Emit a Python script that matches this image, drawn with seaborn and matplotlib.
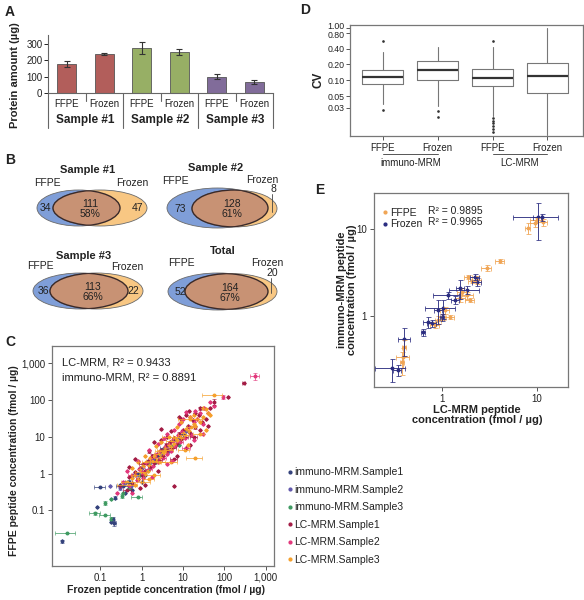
import numpy as np
import pandas as pd
import matplotlib
matplotlib.use("Agg")
import matplotlib.pyplot as plt
import matplotlib.transforms as mtransforms
from matplotlib.patches import Ellipse
from matplotlib.lines import Line2D
import seaborn as sns

sns.set_style("white")
plt.rcParams['font.family'] = ['Liberation Sans', 'DejaVu Sans']
plt.rcParams['text.color'] = '#222222'
plt.rcParams['xtick.color'] = '#222222'
plt.rcParams['ytick.color'] = '#222222'

#################################
# DATA
#################################

# A - protein amount
protein_tissue = ["FFPE", "Frozen"] * 3
protein_sample = ["Sample #1", "Sample #2", "Sample #3"]
protein_amount = [178, 240, 275, 250, 100, 66]
protein_err = [20, 5, 35, 20, 15, 12]
protein_colors = ["#c0504d", "#c0504d", "#9bbb59", "#9bbb59", "#8064a2", "#8064a2"]

# B - venn counts
venn_titles = ["Sample #1", "Sample #2", "Sample #3", "Total"]
venn_ffpe_only = [34, 73, 36, 52]
venn_shared = [111, 128, 113, 164]
venn_shared_pct = ["58%", "61%", "66%", "67%"]
venn_frozen_only = [47, 8, 22, 20]

# C - FFPE vs frozen concentration (x, y, rel. x err, rel. y err)
immuno_s1 = [(0.012, 0.0145, 0, 0.1), (0.085, 0.12, 0, 0), (0.2, 0.06, 0.1, 0.1), (0.22, 0.045, 0.1, 0.15),
             (0.18, 0.05, 0, 0), (0.1, 0.42, 0.3, 0), (0.23, 0.22, 0, 0.1), (0.3, 0.5, 0, 0),
             (0.5, 0.6, 0.2, 0.1), (0.8, 1.0, 0, 0), (1.5, 2.0, 0.1, 0.1), (2.5, 3.0, 0, 0),
             (0.6, 0.35, 0, 0), (1.2, 0.9, 0, 0), (3.5, 5.0, 0.2, 0), (6.0, 8.0, 0, 0),
             (0.4, 0.3, 0, 0), (10, 12, 0, 0), (0.35, 0.45, 0.3, 0), (1.0, 0.6, 0, 0)]
immuno_s2 = [(0.17, 0.45, 0, 0), (0.3, 0.4, 0, 0.1), (0.4, 0.55, 0, 0), (0.7, 0.9, 0.1, 0),
             (1.0, 1.4, 0, 0), (1.3, 1.2, 0, 0), (2.0, 2.5, 0, 0), (3.0, 3.5, 0, 0),
             (0.55, 0.45, 0, 0), (4.5, 4.0, 0, 0), (8.0, 9.0, 0, 0), (12, 14, 0, 0)]
immuno_s3 = [(0.016, 0.025, 0.5, 0), (0.075, 0.083, 0.3, 0.1), (0.13, 0.073, 0.3, 0), (0.18, 0.06, 0, 0.1),
             (0.13, 0.16, 0, 0.1), (0.18, 0.2, 0, 0), (0.34, 0.25, 0, 0.15), (0.8, 0.23, 0.3, 0),
             (0.5, 0.4, 0, 0), (0.9, 0.9, 0, 0), (1.5, 1.3, 0, 0), (2.2, 2.0, 0, 0),
             (3.0, 4.0, 0, 0), (5, 5.5, 0, 0), (0.35, 0.3, 0, 0), (8, 6, 0, 0)]
lc_s1 = [(0.3, 0.45, 0, 0), (0.45, 0.35, 0.2, 0), (0.5, 0.8, 0, 0), (0.6, 0.55, 0, 0.1), (0.7, 1.1, 0, 0),
         (0.8, 0.7, 0.1, 0), (0.9, 1.4, 0, 0), (1.0, 0.9, 0, 0), (1.1, 1.8, 0.2, 0.1), (1.2, 1.2, 0, 0),
         (1.4, 2.2, 0, 0), (1.6, 1.5, 0, 0), (1.8, 3.0, 0, 0.1), (2.0, 1.9, 0, 0), (2.3, 3.5, 0, 0),
         (2.6, 2.4, 0.2, 0), (3.0, 4.5, 0, 0), (3.3, 3.0, 0, 0), (3.8, 5.8, 0, 0.2), (4.2, 4.0, 0, 0),
         (4.8, 7.0, 0, 0), (5.5, 5.0, 0.2, 0), (6.0, 0.47, 0, 0), (6.2, 9.0, 0, 0), (7.0, 6.5, 0, 0),
         (8.0, 12, 0, 0.1), (9.0, 8.5, 0, 0), (10, 15, 0, 0), (11, 10, 0.2, 0), (13, 20, 0, 0),
         (15, 13, 0, 0), (17, 28, 0, 0), (20, 18, 0, 0.1), (24, 38, 0, 0), (28, 25, 0, 0),
         (14, 50, 0, 0), (35, 30, 0, 0), (45, 60, 0, 0), (8, 35, 0, 0), (3, 16, 0, 0),
         (57, 89, 0, 0.2), (120, 120, 0, 0), (290, 290, 0.1, 0), (2.0, 7.0, 0, 0), (0.7, 2.5, 0, 0),
         (25, 15, 0, 0), (12, 5, 0, 0), (0.9, 0.4, 0, 0), (1.5, 4.0, 0, 0.1), (2.5, 1.2, 0, 0),
         (4.0, 10, 0, 0), (6.0, 2.5, 0.2, 0), (9, 30, 0, 0), (15, 6, 0, 0), (25, 60, 0, 0.1),
         (0.5, 1.5, 0, 0), (3.0, 8.0, 0, 0), (7.0, 3.0, 0, 0), (20, 45, 0, 0), (1.2, 0.5, 0, 0),
         (5.0, 14, 0, 0), (12, 40, 0, 0), (40, 20, 0, 0), (18, 10, 0.2, 0)]
lc_s2 = [(0.35, 0.6, 0, 0), (0.5, 0.45, 0, 0), (0.6, 0.9, 0.2, 0), (0.75, 0.65, 0, 0), (0.85, 1.3, 0, 0),
         (1.0, 1.1, 0, 0.1), (1.1, 0.75, 0, 0), (1.3, 1.9, 0, 0), (1.5, 1.3, 0.2, 0), (1.7, 2.6, 0, 0),
         (1.9, 1.6, 0, 0), (2.2, 3.2, 0, 0.1), (2.5, 2.1, 0, 0), (2.8, 4.0, 0, 0), (3.2, 2.7, 0.2, 0),
         (3.6, 5.2, 0, 0), (4.0, 3.3, 0, 0), (4.5, 6.5, 0, 0), (5.0, 4.2, 0, 0), (5.8, 8.0, 0, 0.1),
         (6.5, 5.5, 0, 0), (7.5, 11, 0, 0), (8.5, 7.0, 0.2, 0), (9.5, 14, 0, 0), (11, 9, 0, 0),
         (12, 48, 0, 0), (14, 18, 0, 0), (16, 11, 0, 0), (18, 25, 0, 0), (22, 30, 0, 0),
         (30, 22, 0, 0), (40, 45, 0, 0), (55, 70, 0, 0), (94, 120, 0, 0.1), (540, 445, 0.25, 0.2),
         (4.0, 12, 0, 0), (1.5, 4.5, 0, 0), (0.45, 1.2, 0, 0), (18, 8, 0, 0), (9, 25, 0, 0),
         (0.25, 0.3, 0, 0), (33, 60, 0, 0), (0.8, 2.2, 0, 0), (1.8, 0.8, 0, 0), (3.5, 9.0, 0, 0.1),
         (5.5, 2.2, 0, 0), (8.0, 22, 0, 0), (12, 5, 0.2, 0), (20, 50, 0, 0), (30, 12, 0, 0),
         (2.5, 6.5, 0, 0), (6.0, 15, 0, 0), (0.6, 0.3, 0, 0), (10, 30, 0, 0), (25, 45, 0, 0),
         (15, 35, 0, 0), (4.0, 1.8, 0, 0), (45, 90, 0, 0)]
lc_s3 = [(0.45, 0.6, 0.3, 0), (0.6, 0.75, 0, 0), (0.7, 0.9, 0.2, 0), (0.8, 0.7, 0, 0), (0.9, 1.3, 0, 0),
         (1.0, 1.1, 0.3, 0), (1.1, 1.6, 0, 0), (1.2, 1.0, 0, 0.1), (1.3, 2.0, 0.2, 0), (1.5, 1.7, 0, 0),
         (1.6, 2.6, 0, 0), (1.8, 2.2, 0.3, 0), (2.0, 3.0, 0, 0), (2.2, 2.4, 0, 0.1), (2.5, 3.5, 0.2, 0),
         (2.8, 2.9, 0, 0), (3.0, 4.2, 0.3, 0), (3.3, 3.6, 0, 0), (3.7, 5.0, 0, 0), (4.0, 4.4, 0.4, 0),
         (4.5, 6.0, 0, 0), (5.0, 5.2, 0, 0.1), (5.5, 7.5, 0.3, 0), (6.0, 6.5, 0, 0), (7.0, 8.0, 0, 0),
         (8.0, 10, 0.3, 0), (9.0, 9.0, 0, 0), (10, 13, 0, 0), (11, 11, 0.3, 0), (12, 16, 0, 0),
         (14, 14, 0, 0), (16, 18, 0.2, 0), (18, 22, 0, 0), (20, 20, 0, 0), (22, 30, 0.3, 0),
         (25, 25, 0, 0), (30, 35, 0, 0), (35, 55, 0, 0), (40, 45, 0, 0), (45, 40, 0, 0),
         (20, 2.7, 0.4, 0), (0.5, 0.5, 0.5, 0), (1.4, 1.2, 0, 0), (2.6, 2.0, 0.4, 0), (3.5, 4.0, 0, 0),
         (6.5, 9.0, 0, 0), (57, 135, 0.5, 0), (1.0, 0.6, 0.6, 0), (0.7, 0.5, 0, 0), (15, 30, 0.5, 0),
         (0.8, 2.0, 0, 0), (1.5, 0.7, 0.3, 0), (3.0, 7.0, 0, 0), (5.0, 2.0, 0.4, 0), (7.0, 18, 0, 0),
         (11, 4.5, 0.3, 0), (15, 35, 0, 0), (25, 12, 0.3, 0), (2.2, 5.5, 0, 0), (9.0, 25, 0, 0),
         (0.6, 1.4, 0, 0), (4.5, 10, 0.3, 0), (13, 6.0, 0, 0), (30, 60, 0, 0), (1.2, 3.0, 0, 0),
         (2.0, 0.9, 0.4, 0), (18, 40, 0, 0), (35, 15, 0, 0)]

# D - coefficient of variation box statistics
cv_tissue = ["FFPE", "Frozen", "FFPE", "Frozen"]
cv_method = ["immuno-MRM", "LC-MRM"]
cv_q1 = [0.085, 0.10, 0.077, 0.057]
cv_med = [0.115, 0.16, 0.11, 0.12]
cv_q3 = [0.16, 0.235, 0.165, 0.21]
cv_whislo = [0.036, 0.032, 0.021, 0.0092]
cv_whishi = [0.35, 0.42, 0.42, 1.0]
cv_fliers = [[0.55, 0.027], [0.026, 0.02],
             [0.55, 0.0195, 0.0172, 0.0152, 0.0135, 0.012, 0.0107], []]
cv_ticks = [0.03, 0.05, 0.10, 0.20, 0.40, 0.80, 1.00]

# E - immuno-MRM vs LC-MRM (x, y, rel. x err, rel. y err)
ffpe_e = [(0.39, 0.34, 0.15, 0.25), (0.40, 0.44, 0.05, 0.2), (0.38, 0.30, 0.05, 0.3), (0.91, 0.90, 0.08, 0.1),
          (1.0, 0.97, 0.1, 0.08), (1.21, 0.97, 0.1, 0.05), (1.07, 1.17, 0.1, 0.1), (0.84, 0.79, 0.1, 0.08),
          (1.55, 1.61, 0.12, 0.1), (1.83, 1.74, 0.15, 0.1), (1.97, 1.53, 0.1, 0.05), (1.88, 2.8, 0.1, 0.05),
          (2.33, 2.6, 0.1, 0.1), (2.97, 3.56, 0.12, 0.08), (4.08, 4.3, 0.1, 0.05), (8.0, 10.3, 0.05, 0.15),
          (9.5, 11.7, 0.1, 0.1), (10.0, 12.7, 0.15, 0.05), (11.6, 12.0, 0.1, 0.1), (1.62, 1.89, 0.1, 0.1),
          (2.1, 2.5, 0.1, 0.05)]
frozen_e = [(0.30, 0.25, 0.35, 0.3), (0.34, 0.24, 0.1, 0.15), (0.40, 0.54, 0.15, 0.35), (0.63, 0.65, 0.05, 0.1),
            (0.71, 0.85, 0.1, 0.15), (0.78, 0.83, 0.1, 0.1), (1.02, 1.24, 0.35, 0.25), (1.0, 0.97, 0.05, 0.1),
            (1.16, 1.74, 0.3, 0.1), (1.37, 1.53, 0.1, 0.1), (1.55, 2.1, 0.1, 0.25), (1.83, 1.99, 0.35, 0.1),
            (2.33, 2.46, 0.1, 0.1), (2.22, 2.8, 0.1, 0.08), (10.2, 13.7, 0.1, 0.45), (11.3, 13.7, 0.5, 0.1),
            (0.91, 1.17, 0.1, 0.3)]

#################################
# LAYOUT HELPERS
#################################
W, H = 584, 600
fig = plt.figure(figsize=(W / 100, H / 100), dpi=100)


def px_axes(left, top, right, bottom):
    return fig.add_axes([left / W, 1 - bottom / H, (right - left) / W, (bottom - top) / H])


def ftext(x, y, s, **kw):
    fig.text(x / W, 1 - y / H, s, **kw)


def frame(ax):
    for sp in ax.spines.values():
        sp.set_visible(True)
        sp.set_color('#777777')
        sp.set_linewidth(0.9)
    ax.tick_params(which='both', direction='out', length=3, width=0.7, color='#555555',
                   labelsize=7, bottom=True, left=True, pad=2)
    ax.tick_params(which='minor', length=0)


# panel letters
for letter, (lx, ly) in zip("ABCDE", [(10, 12), (10, 160), (10, 342), (305, 10), (320, 190)]):
    ftext(lx, ly, letter, fontsize=10, fontweight='bold', ha='center', va='center')

#################################
# A - BAR CHART
#################################
axA = px_axes(48, 35, 273, 93)
bar_id = [f"{t} {protein_sample[i // 2]}" for i, t in enumerate(protein_tissue)]
bars = pd.DataFrame({"bar": bar_id, "amount": protein_amount})
sns.barplot(data=bars, x="bar", y="amount", hue="bar", palette=protein_colors, width=0.5,
            legend=False, ax=axA, linewidth=0.6, edgecolor='#555555')
axA.errorbar(np.arange(len(protein_amount)), protein_amount, yerr=protein_err, fmt='none',
             ecolor='#333333', elinewidth=0.8, capsize=2, capthick=0.8)
axA.set_xlim(-0.5, 5.5)
axA.set_ylim(0, 355)
axA.set_yticks([0, 100, 200, 300])
axA.set_xticks(range(6))
axA.set_xticklabels(protein_tissue)
axA.set_xlabel("")
axA.set_ylabel("")
sns.despine(ax=axA)
for sp in ("left", "bottom"):
    axA.spines[sp].set_color('#666666')
    axA.spines[sp].set_linewidth(0.8)
axA.tick_params(axis='y', direction='out', length=3, width=0.7, labelsize=7, left=True, pad=1)
axA.tick_params(axis='x', length=0, labelsize=7, pad=4)
tr = axA.get_xaxis_transform()
for xs in (-0.5, 1.5, 3.5, 5.5):
    axA.plot([xs, xs], [0, -0.6], transform=tr, clip_on=False, color='#666666', lw=0.8)
for xs in (0.5, 2.5, 4.5):
    axA.plot([xs, xs], [0, -0.13], transform=tr, clip_on=False, color='#666666', lw=0.8)
for i, s in enumerate(protein_sample):
    axA.text(2 * i + 0.5, -0.47, s, transform=tr, ha='center', va='center',
             fontsize=8.5, fontweight='bold')
ftext(15, 75, "Protein amount (µg)", rotation=90, fontsize=8, fontweight='bold',
      ha='center', va='center')

#################################
# B - VENN DIAGRAMS
#################################
axB = px_axes(0, 130, 290, 330)
axB.set_xlim(0, 290)
axB.set_ylim(330, 130)
axB.axis('off')

venn_layout = [
    dict(blue=(78.5, 208, 83, 36), orange=(100, 208, 94, 36), title=(88, 170), ffpe=(47, 183),
         frozen=(132, 183), left=(45, 208), mid=(90, 209), right=(137, 208), pointer=None),
    dict(blue=(217.5, 208, 101, 40), orange=(234.5, 208.5, 85, 37), title=(216, 168), ffpe=(175, 181),
         frozen=(262, 180), left=(180, 209), mid=(232, 209), right=(273, 189), pointer=(194, 212)),
    dict(blue=(80.5, 291, 95, 36), orange=(96.5, 291, 93, 36), title=(84, 256), ffpe=(40, 266),
         frozen=(127, 267), left=(43, 291), mid=(93, 292), right=(133, 291), pointer=None),
    dict(blue=(218, 291.5, 100, 37), orange=(231, 291.5, 92, 36), title=(223, 251), ffpe=(181, 263),
         frozen=(267, 263), left=(180, 292), mid=(230, 293), right=(272, 273), pointer=(276, 293)),
]
for i, lay in enumerate(venn_layout):
    bx, by, bw, bh = lay["blue"]
    ox, oy, ow, oh = lay["orange"]
    blue = Ellipse((bx, by), bw, bh, facecolor='#7f9ed8', edgecolor='#6a6a6a', lw=0.6)
    orange = Ellipse((ox, oy), ow, oh, facecolor='#f8c783', edgecolor='#6a6a6a', lw=0.6)
    axB.add_patch(blue)
    axB.add_patch(orange)
    inter = Ellipse((ox, oy), ow, oh, facecolor='#c89274', edgecolor='none')
    axB.add_patch(inter)
    inter.set_clip_path(blue)
    o_edge = Ellipse((ox, oy), ow, oh, facecolor='none', edgecolor='#3a2a2a', lw=1.0)
    axB.add_patch(o_edge)
    o_edge.set_clip_path(blue)
    b_edge = Ellipse((bx, by), bw, bh, facecolor='none', edgecolor='#3a2a2a', lw=1.0)
    axB.add_patch(b_edge)
    b_edge.set_clip_path(Ellipse((ox, oy), ow, oh, transform=axB.transData))
    axB.text(*lay["title"], venn_titles[i], ha='center', va='center', fontsize=8, fontweight='bold')
    axB.text(*lay["ffpe"], "FFPE", ha='center', va='center', fontsize=7.5)
    axB.text(*lay["frozen"], "Frozen", ha='center', va='center', fontsize=7.5)
    axB.text(*lay["left"], str(venn_ffpe_only[i]), ha='center', va='center', fontsize=7.5)
    axB.text(*lay["mid"], f"{venn_shared[i]}\n{venn_shared_pct[i]}", ha='center', va='center',
             fontsize=7.5, linespacing=1.1)
    axB.text(*lay["right"], str(venn_frozen_only[i]), ha='center', va='center', fontsize=7.5)
    if lay["pointer"] is not None:
        rx, ry = lay["right"]
        axB.plot([rx - 1, rx - 1], [ry + 5, lay["pointer"][1]], color='#444444', lw=0.6)

#################################
# C - FFPE vs FROZEN SCATTER
#################################
axC = px_axes(52, 346, 274, 566)
c_series = [("immuno-MRM.Sample1", immuno_s1, "#34427c"),
            ("immuno-MRM.Sample2", immuno_s2, "#6259ad"),
            ("immuno-MRM.Sample3", immuno_s3, "#3f9a62"),
            ("LC-MRM.Sample1", lc_s1, "#a31c45"),
            ("LC-MRM.Sample2", lc_s2, "#e2387c"),
            ("LC-MRM.Sample3", lc_s3, "#f5a02c")]
for name, pts, col in c_series:
    arr = np.array(pts, dtype=float)
    x, y, ex, ey = arr.T
    axC.errorbar(x, y, xerr=x * ex, yerr=y * ey, fmt='none', ecolor=col, elinewidth=0.6,
                 capsize=1.2, capthick=0.5, alpha=0.85)
    sns.scatterplot(x=x, y=y, color=col, s=8, linewidth=0, ax=axC, legend=False)
axC.set_xscale('log')
axC.set_yscale('log')
axC.set_xlim(0.0068, 1580)
axC.set_ylim(0.0031, 2900)
c_ticks = [0.1, 1, 10, 100, 1000]
c_labels = ["0.1", "1", "10", "100", "1,000"]
axC.set_xticks(c_ticks)
axC.set_xticklabels(c_labels)
axC.set_yticks(c_ticks)
axC.set_yticklabels(c_labels)
frame(axC)
axC.text(0.045, 0.925, "LC-MRM, R² = 0.9433", transform=axC.transAxes, fontsize=8, va='center')
axC.text(0.045, 0.855, "immuno-MRM, R² = 0.8891", transform=axC.transAxes, fontsize=8, va='center')
ftext(166, 590, "Frozen peptide concentration (fmol / µg)", fontsize=7.5, fontweight='bold',
      ha='center', va='center')
ftext(14, 461, "FFPE peptide concentration (fmol / µg)", rotation=90, fontsize=7.5,
      fontweight='bold', ha='center', va='center')
handles = [Line2D([], [], marker='o', ls='none', ms=2, color=c) for _, _, c in c_series]
fig.legend(handles, [n for n, _, _ in c_series], loc='upper left',
           bbox_to_anchor=(283 / W, 1 - 462 / H), frameon=False, fontsize=7.5,
           handlelength=0.4, handletextpad=0.2, labelspacing=0.72, borderpad=0)

#################################
# D - CV BOXPLOT
#################################
axD = px_axes(350, 25, 583, 136)
stats = []
for i in range(len(cv_tissue)):
    stats.append(dict(q1=cv_q1[i], med=cv_med[i], q3=cv_q3[i], whislo=cv_whislo[i],
                      whishi=cv_whishi[i], fliers=cv_fliers[i]))
axD.bxp(stats, positions=range(len(stats)), widths=0.75, showfliers=True,
        boxprops=dict(color='#777777', lw=0.8),
        whiskerprops=dict(color='#777777', lw=0.8),
        capprops=dict(lw=0),
        medianprops=dict(color='#333333', lw=1.6),
        flierprops=dict(marker='o', ms=0.9, markerfacecolor='#333333', markeredgecolor='#333333'))
axD.set_yscale('log')
axD.set_ylim(0.0088, 1.12)
axD.set_xlim(-0.6, 3.65)
axD.set_yticks(cv_ticks)
axD.set_yticklabels([f"{v:.2f}" for v in cv_ticks])
axD.set_xticks(range(len(cv_tissue)))
axD.set_xticklabels(cv_tissue)
frame(axD)
axD.tick_params(axis='y', labelsize=6.3, pad=1)
# pull the crowded 1.00 / 0.80 labels slightly apart, as in the source
for lab, v in zip(axD.get_yticklabels(), cv_ticks):
    if v == 1.00:
        lab.set_transform(lab.get_transform() + mtransforms.ScaledTranslation(0, 1.5 / 72, fig.dpi_scale_trans))
    elif v == 0.80:
        lab.set_transform(lab.get_transform() + mtransforms.ScaledTranslation(0, -1.5 / 72, fig.dpi_scale_trans))
trD = axD.get_xaxis_transform()
for j, m in enumerate(cv_method):
    axD.plot([2 * j, 2 * j + 1], [-0.165, -0.165], transform=trD, clip_on=False, color='#555555', lw=0.7)
    axD.text(2 * j + 0.5, -0.24, m, transform=trD, ha='center', va='center', fontsize=7)
ftext(318, 80, "CV", rotation=90, fontsize=8.5, fontweight='bold', ha='center', va='center')

#################################
# E - IMMUNO vs LC SCATTER
#################################
axE = px_axes(374, 193, 568, 387)
e_series = [("FFPE", ffpe_e, "#f0a555"), ("Frozen", frozen_e, "#2a2c80")]
for name, pts, col in e_series:
    arr = np.array(pts, dtype=float)
    x, y, ex, ey = arr.T
    axE.errorbar(x, y, xerr=x * ex, yerr=y * ey, fmt='none', ecolor=col, elinewidth=0.7,
                 capsize=1.8, capthick=0.6, alpha=0.9)
    sns.scatterplot(x=x, y=y, color=col, s=8, linewidth=0, ax=axE, legend=False)
axE.set_xscale('log')
axE.set_yscale('log')
axE.set_xlim(0.192, 21.4)
axE.set_ylim(0.153, 26)
axE.set_xticks([1, 10])
axE.set_xticklabels(["1", "10"])
axE.set_yticks([1, 10])
axE.set_yticklabels(["1", "10"])
frame(axE)
e_handles = [Line2D([], [], marker='o', ls='none', ms=2, color=c) for _, _, c in e_series]
axE.legend(e_handles, [n for n, _, _ in e_series], loc='upper left', bbox_to_anchor=(0.02, 0.95),
           frameon=False, fontsize=7.5, handlelength=0.4, handletextpad=0.3, labelspacing=0.15,
           borderpad=0)
axE.text(0.28, 0.905, "R² = 0.9895", transform=axE.transAxes, fontsize=7.5, va='center')
axE.text(0.28, 0.848, "R² = 0.9965", transform=axE.transAxes, fontsize=7.5, va='center')
ftext(477, 415, "LC-MRM peptide\nconcentration (fmol / µg)", fontsize=8, fontweight='bold',
      ha='center', va='center', linespacing=1.1)
ftext(347, 290, "immuno-MRM peptide\nconcentration (fmol / µg)", rotation=90, fontsize=8,
      fontweight='bold', ha='center', va='center', linespacing=1.1)

fig.savefig("out.png", dpi=100)
